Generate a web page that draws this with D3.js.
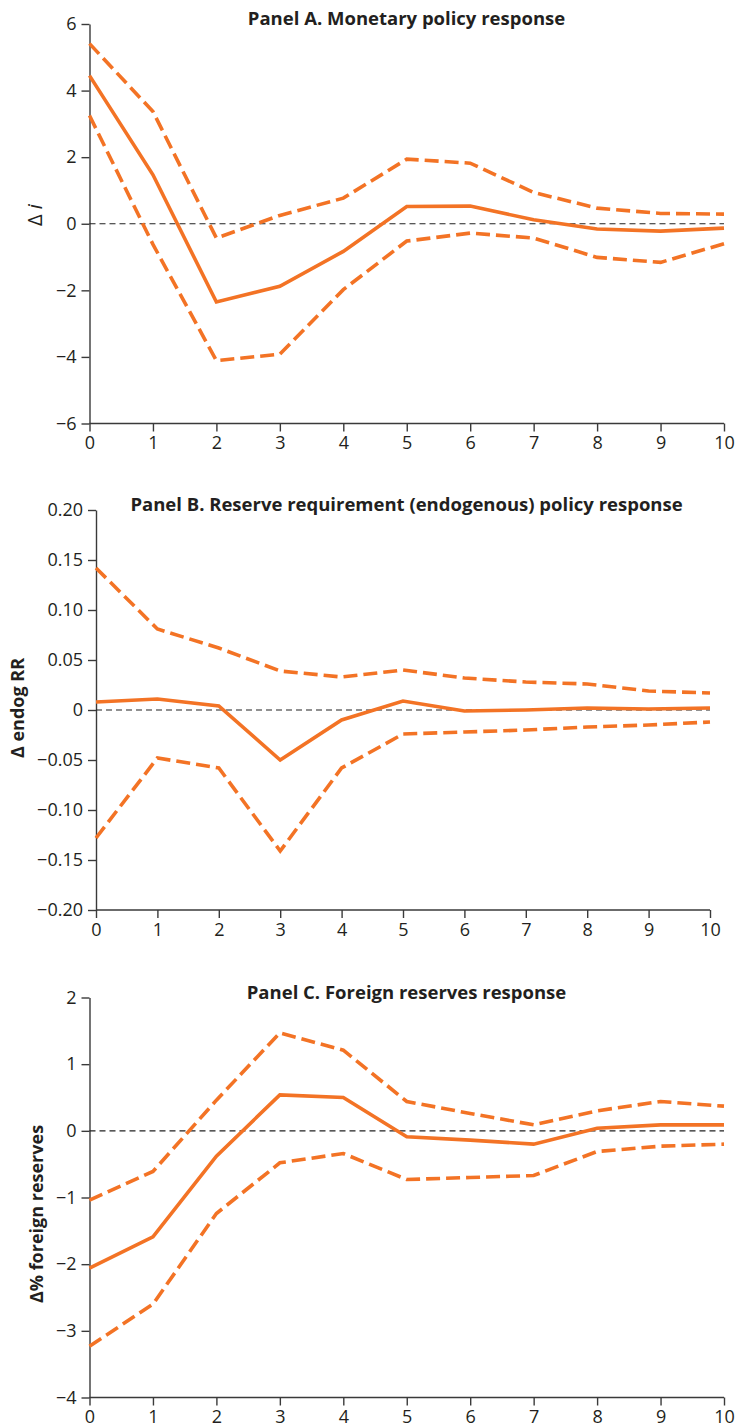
<!DOCTYPE html>
<html>
<head>
<meta charset="utf-8">
<title>Policy responses</title>
<style>
  body { margin: 0; background: #fff; }
  svg text { font-family: "Open Sans", "Liberation Sans", sans-serif; fill: #231f20; }
  .axis path, .axis line { stroke: #3a3a3a; stroke-width: 1.4px; }
  .axis text { font-size: 18px; }
  .ptitle { font-size: 18.5px; font-weight: bold; }
</style>
</head>
<body>
<svg id="chart"></svg>
<script src="https://d3js.org/d3.v7.min.js"></script>
<script>
var width = 735;
var height = 1428;
var orange = "#f37325";

// horizon (quarters) shared by all panels
var horizon = [0, 1, 2, 3, 4, 5, 6, 7, 8, 9, 10];

// Panel A: monetary policy response
var rateMid   = [4.45, 1.47, -2.35, -1.88, -0.83, 0.52, 0.53, 0.12, -0.16, -0.22, -0.13];
var rateUpper = [5.41, 3.37, -0.43, 0.25, 0.77, 1.94, 1.82, 0.94, 0.47, 0.31, 0.29];
var rateLower = [3.25, -0.62, -4.11, -3.92, -1.98, -0.52, -0.28, -0.43, -1.01, -1.16, -0.6];
var rateTicks = [-6, -4, -2, 0, 2, 4, 6];

// Panel B: reserve requirement (endogenous)
var rrMid   = [0.008, 0.011, 0.004, -0.05, -0.01, 0.009, -0.001, 0, 0.002, 0.001, 0.002];
var rrUpper = [0.142, 0.081, 0.062, 0.039, 0.033, 0.04, 0.032, 0.028, 0.026, 0.019, 0.017];
var rrLower = [-0.128, -0.048, -0.058, -0.141, -0.058, -0.024, -0.022, -0.02, -0.017, -0.015, -0.012];
var rrTicks = [-0.2, -0.15, -0.1, -0.05, 0, 0.05, 0.1, 0.15, 0.2];

// Panel C: foreign reserves
var fxMid   = [-2.06, -1.59, -0.38, 0.54, 0.5, -0.09, -0.14, -0.2, 0.04, 0.09, 0.09];
var fxUpper = [-1.04, -0.61, 0.46, 1.47, 1.21, 0.44, 0.26, 0.09, 0.3, 0.44, 0.37];
var fxLower = [-3.23, -2.6, -1.24, -0.48, -0.34, -0.73, -0.7, -0.67, -0.31, -0.23, -0.2];
var fxTicks = [-4, -3, -2, -1, 0, 1, 2];

var panels = [
  { title: "Panel A. Monetary policy response", mid: rateMid, up: rateUpper, lo: rateLower,
    ticks: rateTicks, fmt: d3.format("d"), left: 89.5, right: 724, top: 24, bottom: 423.5,
    label: "i", labelX: 35, labelY: 215 },
  { title: "Panel B. Reserve requirement (endogenous) policy response", mid: rrMid, up: rrUpper, lo: rrLower,
    ticks: rrTicks, fmt: function(d) { return d === 0 ? "0" : d3.format(".2f")(d); },
    left: 96, right: 710, top: 510, bottom: 910,
    label: "\u0394 endog RR", labelX: 18, labelY: 708 },
  { title: "Panel C. Foreign reserves response", mid: fxMid, up: fxUpper, lo: fxLower,
    ticks: fxTicks, fmt: d3.format("d"), left: 89.5, right: 724, top: 997.5, bottom: 1397.5,
    label: "\u0394% foreign reserves", labelX: 37, labelY: 1214 }
];

var svg = d3.select("#chart").attr("width", width).attr("height", height);

panels.forEach(function(p, k) {
  var x = d3.scaleLinear().domain([0, 10]).range([p.left, p.right]);
  var y = d3.scaleLinear().domain([p.ticks[0], p.ticks[p.ticks.length - 1]]).range([p.bottom, p.top]);
  var g = svg.append("g");

  g.append("g").attr("class", "axis")
    .attr("transform", "translate(0," + p.bottom + ")")
    .call(d3.axisBottom(x).tickValues(horizon).tickSize(8).tickPadding(5).tickSizeOuter(0))
    .call(function(a) { a.select(".domain").attr("d", "M" + p.left + ",0H" + p.right); });

  g.append("g").attr("class", "axis")
    .attr("transform", "translate(" + p.left + ",0)")
    .call(d3.axisLeft(y).tickValues(p.ticks).tickFormat(p.fmt).tickSize(8).tickPadding(5).tickSizeOuter(0));

  g.selectAll(".axis text").attr("fill", "#231f20").style("fill", "#231f20");

  // zero line
  g.append("line")
    .attr("x1", p.left).attr("x2", p.right)
    .attr("y1", y(0)).attr("y2", y(0))
    .attr("stroke", "#222").attr("stroke-width", 1.1)
    .attr("stroke-dasharray", "6,4");

  var line = d3.line()
    .x(function(d, i) { return x(horizon[i]); })
    .y(function(d) { return y(d); });

  [p.up, p.lo].forEach(function(s) {
    g.append("path").datum(s)
      .attr("d", line)
      .attr("fill", "none")
      .attr("stroke", orange)
      .attr("stroke-width", 3.6)
      .attr("stroke-dasharray", "14,6");
  });

  g.append("path").datum(p.mid)
    .attr("d", line)
    .attr("fill", "none")
    .attr("stroke", orange)
    .attr("stroke-width", 3.6);

  g.append("text").attr("class", "ptitle")
    .attr("x", 406.5).attr("y", p.top + 1)
    .attr("text-anchor", "middle")
    .text(p.title);

  var lab = g.append("text")
    .attr("transform", "translate(" + p.labelX + "," + p.labelY + ") rotate(-90)")
    .attr("text-anchor", "middle")
    .attr("dy", "0.35em")
    .style("font-size", "18px");
  if (k === 0) {
    lab.style("font-size", "20px");
    lab.append("tspan").text("\u0394 ");
    lab.append("tspan").style("font-style", "italic").text("i");
  } else {
    lab.style("font-weight", "bold").text(p.label);
  }
});
</script>
</body>
</html>
